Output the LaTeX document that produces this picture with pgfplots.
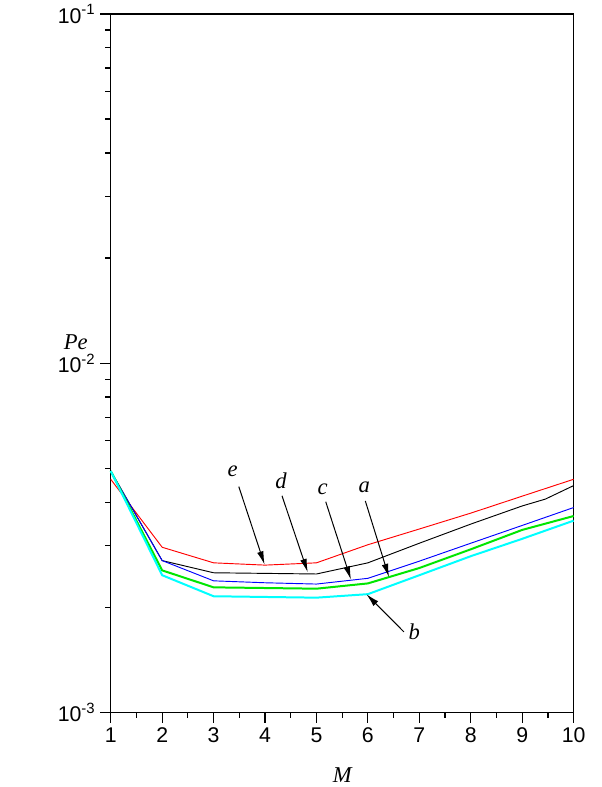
\documentclass[border=0pt]{standalone}
\usepackage{fontspec}
\setmainfont{Liberation Serif}
\newfontfamily\arial{Liberation Sans}
\usepackage{pgfplots}
\pgfplotsset{compat=1.18}
\usetikzlibrary{arrows.meta}
\definecolor{cyn}{RGB}{0,255,255}
\definecolor{grn}{RGB}{0,230,0}

\begin{document}
\begin{tikzpicture}
\begin{axis}[
	name=ax,
	scale only axis,
	width=348pt,
	height=525pt,
	xmin=1, xmax=10,
	ymin=1e-3, ymax=1e-1,
	ymode=log,
	xtick={1,2,...,10},
	minor x tick num=1,
	ytick={1e-3,1e-2,1e-1},
	yticklabels={10\textsuperscript{-3},10\textsuperscript{-2},10\textsuperscript{-1}},
	xtick pos=bottom,
	ytick pos=left,
	tick align=outside,
	major tick length=8pt,
	minor tick length=4pt,
	tick style={black,line width=0.9pt},
	axis line style={black,line width=0.9pt},
	tick label style={font=\arial\fontsize{16}{18}\selectfont},
	/pgf/number format/assume math mode=true,
	clip=false,
]
% e
\addplot[red,line width=0.7pt] coordinates {
	(1,4.65e-3) (2,2.97e-3) (3,2.68e-3) (4,2.64e-3) (5,2.68e-3)
	(6,3.02e-3) (7,3.35e-3) (8,3.72e-3) (9,4.16e-3) (10,4.65e-3)};
% d
\addplot[black,line width=0.7pt] coordinates {
	(1,4.91e-3) (2,2.72e-3) (3,2.51e-3) (4,2.50e-3) (5,2.49e-3)
	(6,2.68e-3) (7,3.05e-3) (8,3.46e-3) (9,3.90e-3) (9.45,4.08e-3) (10,4.46e-3)};
% c
\addplot[blue,line width=0.7pt] coordinates {
	(1,4.91e-3) (2,2.72e-3) (3,2.38e-3) (4,2.35e-3) (5,2.33e-3)
	(6,2.42e-3) (7,2.71e-3) (8,3.05e-3) (9,3.43e-3) (10,3.86e-3)};
% a
\addplot[grn,line width=1.5pt] coordinates {
	(1,4.91e-3) (2,2.55e-3) (3,2.28e-3) (4,2.27e-3) (5,2.26e-3)
	(6,2.34e-3) (7,2.59e-3) (8,2.93e-3) (9,3.33e-3) (10,3.65e-3)};
% b
\addplot[cyn,line width=1.5pt] coordinates {
	(1,4.91e-3) (2,2.47e-3) (3,2.15e-3) (4,2.14e-3) (5,2.13e-3)
	(6,2.18e-3) (7,2.47e-3) (8,2.80e-3) (9,3.14e-3) (10,3.54e-3)};

\begin{scope}[line width=0.75pt,-{Latex[length=10pt,width=5pt]}]
	\draw (axis cs:3.49,4.43e-3) -- (axis cs:3.99,2.65e-3);
	\draw (axis cs:4.33,4.17e-3) -- (axis cs:4.83,2.52e-3);
	\draw (axis cs:5.18,4.01e-3) -- (axis cs:5.67,2.40e-3);
	\draw (axis cs:5.95,4.03e-3) -- (axis cs:6.41,2.44e-3);
	\draw (axis cs:6.70,1.70e-3) -- (axis cs:5.97,2.18e-3);
\end{scope}
\begin{scope}[font=\itshape\fontsize{17}{19}\selectfont]
	\node at (axis cs:3.37,4.91e-3) {e};
	\node at (axis cs:4.31,4.60e-3) {d};
	\node at (axis cs:5.12,4.36e-3) {c};
	\node at (axis cs:5.93,4.40e-3) {a};
	\node at (axis cs:6.90,1.70e-3) {b};
	\node at (rel axis cs:-0.0754,0.53) {Pe};
	\node at (rel axis cs:0.5,-0.09) {M};
\end{scope}
\end{axis}
\path ([shift={(-83.25pt,-54.75pt)}]ax.south west) rectangle ([shift={(21pt,10.5pt)}]ax.north east);
\end{tikzpicture}
\end{document}
